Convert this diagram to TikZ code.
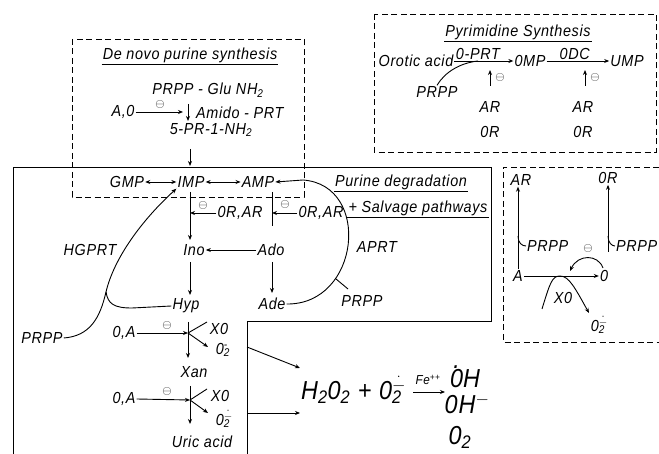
\documentclass[tikz,border=0pt]{standalone}
\usepackage{fontspec}
\setmainfont{Liberation Sans}[FakeStretch=0.9, LetterSpace=4]
\usetikzlibrary{arrows.meta}
\newcommand\ssb[1]{\textsubscript{#1}}
\newcommand\sps[2]{\rlap{\textsuperscript{#1}}\textsubscript{#2}}
\newcommand\radm{$\dot{-}$}
\newcommand\dotzero{\ooalign{0\cr\hidewidth\raisebox{0.72em}{.}\hidewidth\cr}}
\begin{document}
\begin{tikzpicture}[x=1pt,y=-1pt,
  lbl/.style={font=\itshape\fontsize{16}{17}\selectfont, inner sep=1pt},
  big/.style={font=\itshape\fontsize{26}{28}\selectfont, inner sep=1pt},
  sml/.style={font=\itshape\fontsize{13}{14}\selectfont, inner sep=1pt},
  inh/.style={font=\fontsize{12}{12}\selectfont, inner sep=0pt},
  ln/.style={line width=0.9pt},
  arr/.style={ln, -{Stealth[length=5pt,width=4pt]}},
  dbl/.style={ln, {Stealth[length=5pt,width=4pt]}-{Stealth[length=5pt,width=4pt]}},
  dbox/.style={line width=0.8pt, dash pattern=on 6pt off 3.5pt},
  ul/.style={line width=0.8pt}
]
\useasboundingbox (0,0) rectangle (659,454);

% ---------- De novo purine synthesis ----------
\draw[dbox] (72,39) rectangle (304,197);
\node[lbl] (dnt) at (190,55) {De novo purine synthesis};
\draw[ul] ([yshift=-1pt]dnt.south west) -- ([yshift=-1pt]dnt.south east);
\node[lbl] (glu) at (208,90) {PRPP - Glu NH\ssb{2}};
\node[lbl] (a0) at (123,112) {A,0};
\coordinate (aend) at (183,112);
\draw[arr] (a0.east) -- (aend);
\node[inh] (inh1) at (160,105) {$\ominus$};
\coordinate (dtop) at (188,104);
\coordinate (dbot) at (188,121);
\draw[arr] (dtop) -- (dbot);
\node[lbl,anchor=west] (amido) at (195,113) {Amido - PRT};
\node[lbl] (pr) at (211,130) {5-PR-1-NH\ssb{2}};
\coordinate (p1) at (190,149);
\coordinate (p2) at (190,166);
\draw[arr] (p1) -- (p2);

% ---------- solid outline ----------
\draw[ln] (13,454) -- (13,167) -- (491,167) -- (491,321) -- (247,321) -- (247,454);

% ---------- main pathway ----------
\node[lbl] (gmp) at (127,182) {GMP};
\node[lbl] (imp) at (191,182) {IMP};
\node[lbl] (amp) at (258,182) {AMP};
\draw[dbl] (gmp) -- (imp);
\draw[dbl] (imp) -- (amp);

\node[lbl] (ino) at (194,250) {Ino};
\node[lbl] (ado) at (271,250) {Ado};
\node[lbl] (hyp) at (186,306) {Hyp};
\node[lbl] (ade) at (272,304) {Ade};

\coordinate (impb) at (190,192);
\coordinate (inot) at (190,240);
\draw[arr] (impb) -- (inot);
\node[lbl] (orar1) at (240,213) {0R,AR};
\draw[arr] (orar1.west) -- (orar1.west -| impb);
\node[inh] at (203,206) {$\ominus$};

\coordinate (ampl1) at (272,192);
\coordinate (ampl2) at (272,226);
\draw[ln] (ampl1) -- (ampl2);
\node[lbl] (orar2) at (321,213) {0R,AR};
\draw[arr] (orar2.west) -- (orar2.west -| ampl1);
\node[inh] at (285,205) {$\ominus$};

\draw[arr] (ado) -- (ino);
\coordinate (inob) at (190,262);
\coordinate (hypt) at (190,295);
\draw[arr] (inob) -- (hypt);
\coordinate (adob) at (272,262);
\coordinate (adet) at (272,293);
\draw[arr] (adob) -- (adet);

% HGPRT salvage
\node[lbl] (hgprt) at (90,250) {HGPRT};
\coordinate (cusp) at (106,292);
\draw[arr] (cusp) .. controls (114,258) and (142,220) .. (imp.south west);
\draw[ln] (cusp) .. controls (108,304) and (114,308) .. (132,308) -- (hyp.west);
\node[lbl] (prppL) at (42,338) {PRPP};
\draw[ln] (prppL.east) .. controls (90,336) and (100,318) .. (cusp);

% APRT salvage
\coordinate (aprtend) at (303,180);
\draw[arr] (ade.east) .. controls (360,305) and (372,185) .. coordinate[pos=0.3] (tk) (aprtend) -- (amp.east);
\node[lbl] (aprt) at (377,247) {APRT};
\coordinate (tk2) at (348,289);
\draw[ln] (tk) -- (tk2);
\node[lbl] (prppR) at (362,301) {PRPP};

\node[lbl] (pdeg) at (401,182) {Purine degradation};
\draw[ul] ([yshift=-1pt]pdeg.south west) -- ([yshift=-1pt]pdeg.south east);
\node[lbl] (salv) at (418,208) {+ Salvage pathways};
\draw[ul] ([yshift=-1pt]salv.south west) -- ([yshift=-1pt]salv.south east);

% xanthine oxidase steps
\node[lbl] (oa1) at (124,333) {0,A};
\coordinate (j1) at (188,333);
\draw[arr] (oa1.east) -- (j1);
\node[inh] at (167,326) {$\ominus$};
\coordinate (j1t) at (188,322);
\coordinate (j1b) at (188,358);
\draw[arr] (j1t) -- (j1b);
\coordinate (x1e) at (207,322);
\draw[ln] (j1) -- (x1e);
\node[lbl] (xo1) at (219,329) {X0};
\coordinate (o1e) at (208,347);
\draw[arr] (j1) -- (o1e);
\node[lbl] (os1) at (223,350) {0\sps{-}{2}};

\node[lbl] (xan) at (194,372) {Xan};

\node[lbl] (oa2) at (124,399) {0,A};
\coordinate (j2) at (190,400);
\draw[arr] (oa2.east) -- (j2);
\node[inh] at (167,392) {$\ominus$};
\coordinate (j2t) at (190,386);
\coordinate (j2b) at (190,424);
\draw[arr] (j2t) -- (j2b);
\coordinate (x2e) at (207,389);
\draw[ln] (j2) -- (x2e);
\node[lbl] (xo2) at (220,396) {X0};
\coordinate (o2e) at (208,413);
\draw[arr] (j2) -- (o2e);
\node[lbl] (os2) at (223,419) {0\sps{\radm}{2}};

\node[lbl] (uric) at (202,442) {Uric acid};

% ---------- oxygen radicals ----------
\node[big, anchor=west] (hoo) at (300,390) {H\ssb{2}0\ssb{2} + 0\sps{\radm}{2}};
\coordinate (s1) at (247,347);
\coordinate (s2) at (247,413);
\draw[arr] (s1) -- (hoo.west |- 0,368);
\draw[arr] (s2) -- (hoo.west |- 0,413);
\node[sml] (fe) at (428,380) {Fe\textsuperscript{++}};
\coordinate (fa1) at (413,392);
\coordinate (fa2) at (445,392);
\draw[arr] (fa1) -- (fa2);
\node[big] (oh) at (465,378) {\dotzero H};
\node[big] (ohm) at (467,404) {0H\textsuperscript{$-$}};
\node[big] (o2) at (460,437) {0\ssb{2}};

% ---------- Pyrimidine synthesis ----------
\draw[dbox] (374,14) rectangle (656,152);
\node[lbl] (pyt) at (518,32) {Pyrimidine Synthesis};
\draw[ul] ([yshift=-1pt]pyt.south west) -- ([yshift=-1pt]pyt.south east);
\node[lbl] (oro) at (416,61) {Orotic acid};
\node[lbl] (omp) at (530,61) {0MP};
\node[lbl] (ump) at (627,61) {UMP};
\draw[arr] (oro.east) -- node[lbl, anchor=south west, pos=0] (oprt) {0-PRT} (omp.west);
\draw[arr] (omp.east) -- node[lbl, above, pos=0.45] (odc) {0DC} (ump.west);
\node[lbl] (prppP) at (437,92) {PRPP};
\coordinate (pj) at (478,61);
\draw[ln] (prppP.north) .. controls (445,72) and (460,63) .. (pj);
\coordinate (u1b) at (490,86);
\coordinate (u1t) at (490,70);
\draw[arr] (u1b) -- (u1t);
\node[inh] at (500,78) {$\ominus$};
\node[lbl] (ar1) at (490,107) {AR};
\node[lbl] (or1) at (490,132) {0R};
\coordinate (u2b) at (585,86);
\coordinate (u2t) at (585,70);
\draw[arr] (u2b) -- (u2t);
\node[inh] at (595,78) {$\ominus$};
\node[lbl] (ar2) at (583,107) {AR};
\node[lbl] (or2) at (583,132) {0R};

% ---------- small right box ----------
\draw[dbox] (659,167) -- (503,167) -- (503,342) -- (659,342);
\node[lbl] (ar3) at (521,180) {AR};
\node[lbl] (or3) at (608,178) {0R};
\node[lbl] (a3) at (518,276) {A};
\node[lbl] (o3) at (604,276) {0};
\draw[arr] (a3) -- (o3);
\draw[arr] (a3.north) -- (a3.north |- ar3.south);
\node[lbl, anchor=west] (pp3) at (526,246) {PRPP};
\draw[ln] (pp3.west) .. controls (522,246) and (518,243) .. (518,236);
\coordinate (orb) at (608,252);
\draw[arr] (orb) -- (orb |- or3.south);
\node[lbl, anchor=west] (pp4) at (615,246) {PRPP};
\draw[ln] (pp4.west) .. controls (612,246) and (608,243) .. (608,236);
\node[inh] at (588,249) {$\ominus$};
\coordinate (c1) at (603,268);
\coordinate (c2) at (570,271);
\draw[arr] (c1) .. controls (598,254) and (578,254) .. (c2);
\coordinate (xs) at (542,309);
\coordinate (xe) at (589,313);
\draw[arr] (xs) .. controls (550,283) and (552,276) .. (560,276) .. controls (569,276) and (575,288) .. (xe);
\node[lbl] (xo3) at (563,298) {X0};
\node[lbl] (o23) at (598,325) {0\sps{\radm}{2}};
\end{tikzpicture}
\end{document}
